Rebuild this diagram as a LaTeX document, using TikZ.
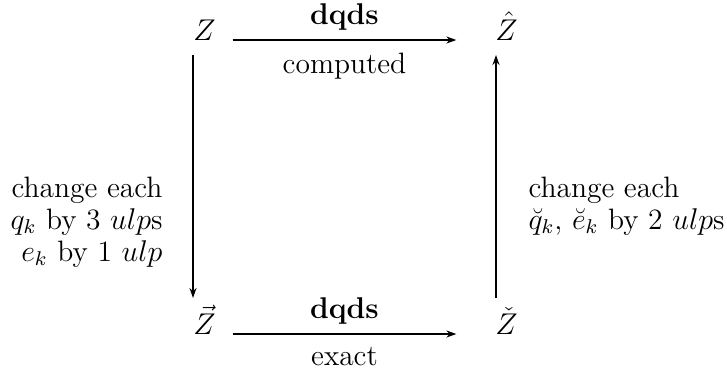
\documentclass[tikz,border=0pt]{standalone}
\usepackage{amsmath}
\usetikzlibrary{arrows.meta}
\begin{document}
\begin{tikzpicture}[x=0.4pt,y=-0.4pt,
  arr/.style={-{Stealth[length=4pt,width=2.8pt]}, line width=0.6pt},
  lab/.style={font=\fontsize{11.8}{12.8}\selectfont, inner sep=0pt},
  corner/.style={font=\fontsize{11.5}{12.8}\selectfont, inner sep=0pt, anchor=base}]
\useasboundingbox (0,0) rectangle (727,375);
% corner objects
\node[corner] (Z)    at (204.5,40)  {$Z$};
\node[corner] (Zhat) at (506.5,40)  {$\hat{Z}$};
\node[corner] (Zvec) at (204.5,334) {$\vec{Z}$};
\node[corner] (Zchk) at (506.5,334) {$\check{Z}$};
% horizontal arrows
\draw[arr] ([xshift=6.6pt]Z.base east) coordinate (t0) -- ([xshift=-15.4pt]Zhat.base west) coordinate (t1);
\draw[arr] ([xshift=6.6pt]Zvec.base east) coordinate (b0) -- ([xshift=-15.4pt]Zchk.base west) coordinate (b1);
\path (t0) -- (t1)
  node[midway, lab, above=3.5pt] (dq1) {$\mathbf{dqds}$}
  node[midway, lab, below=5pt] (cmp) {computed};
\path (b0) -- (b1)
  node[midway, lab, above=3.5pt] (dq2) {$\mathbf{dqds}$}
  node[midway, lab, below=5pt] (ex) {exact};
% vertical arrows
\coordinate (L0) at (193,55);
\coordinate (L1) at (193,298);
\coordinate (R0) at (496,298);
\coordinate (R1) at (496,55);
\draw[arr] (L0) -- (L1);
\draw[arr] (R0) -- (R1);
% side labels
\node[lab, align=right, anchor=east] (left) at (163,222)
  {change each\\ $q_k$ by 3 $ulp$s\\ $e_k$ by 1 $ulp$};
\node[lab, align=left, anchor=west] (right) at (528,206)
  {change each\\ $\breve{q}_k$, $\breve{e}_k$ by 2 $ulp$s};
\end{tikzpicture}
\end{document}
